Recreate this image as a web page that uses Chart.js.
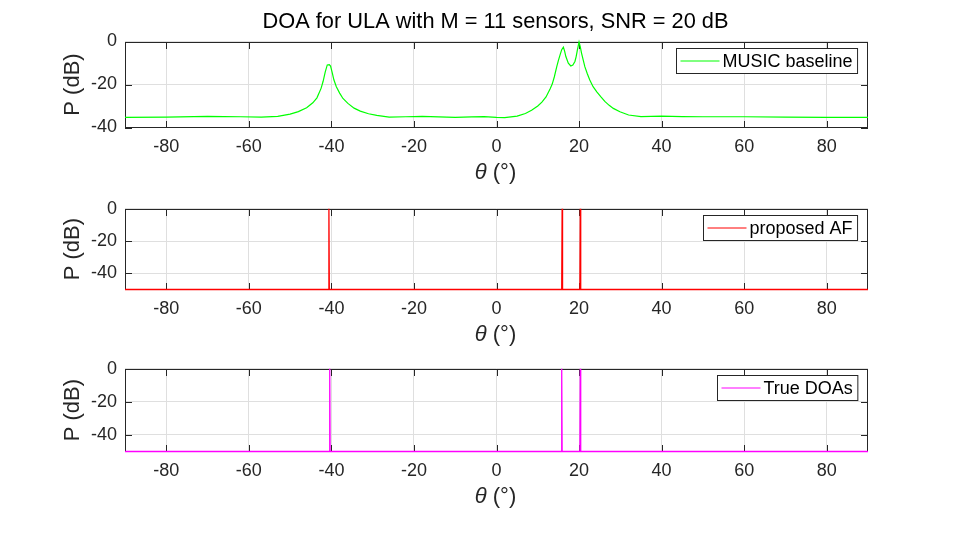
<!DOCTYPE html>
<html><head><meta charset="utf-8">
<script src="https://cdn.jsdelivr.net/npm/chart.js@4"></script>
<style>
html,body{margin:0;padding:0;background:#fff;}
#wrap{position:relative;width:960px;height:540px;overflow:hidden;background:#fff;}
canvas{position:absolute;left:0;}
</style></head><body>
<div id="wrap">
<canvas id="c1" width="960" height="190" style="top:0px"></canvas>
<canvas id="c2" width="960" height="160" style="top:190px"></canvas>
<canvas id="c3" width="960" height="190" style="top:350px"></canvas>
</div>
<script>
// ---- data ----
const thetaMusic = [-90,-80,-70,-62,-57,-53,-50,-48,-46,-44.5,-43.5,-42.5,-42,-41.5,-41,-40.5,-40.2,-39.8,-39.4,-38.8,-38,-37.2,-36,-34.5,-33,-31,-29,-26,-22,-18,-14,-10,-6,-3,0,2,5,7,8.5,10,11,12,13,13.5,14,14.6,15,15.4,15.8,16.2,16.5,16.8,17.4,18,18.5,19,19.3,19.6,20,20.3,20.6,21,21.4,22,22.6,23.4,24.3,25.3,26.3,27.3,28.3,29.9,32,35,40,45,50,60,70,80,90];
const pMusic = [-35.3,-35.2,-34.8,-35.0,-35.2,-34.8,-33.8,-32.6,-30.8,-28.5,-26.2,-21.8,-18.5,-14.2,-10.9,-10.8,-11.4,-14.5,-17.8,-21.0,-24.0,-26.5,-28.8,-31.0,-32.4,-33.6,-34.4,-35.2,-35.0,-34.8,-35.1,-35.3,-35.1,-34.9,-35.3,-35.4,-34.7,-33.5,-32.0,-30.0,-28.2,-25.8,-22.0,-19.8,-16.5,-11.7,-8.8,-6.2,-3.8,-2.6,-4.5,-7.0,-10.1,-11.4,-11.0,-9.3,-7.0,-3.9,-0.2,-2.5,-5.4,-8.5,-11.7,-15.0,-17.9,-21.0,-23.4,-25.8,-28.0,-29.7,-31.1,-32.7,-34.2,-34.9,-34.7,-34.9,-35.0,-35.0,-35.2,-35.3,-35.3];
const thetaAF = [-90,-40.7,-40.6,-40.5,15.8,15.9,16.0,20.2,20.3,20.4,90];
const pAF = [-50,-50,0,-50,-50,0,-50,-50,0,-50,-50];
const thetaTrue = [-90,-40.5,-40.4,-40.3,15.7,15.8,15.9,20.2,20.3,20.4,90];
const pTrue = [-50,-50,0,-50,-50,0,-50,-50,0,-50,-50];
const xTicks = [-80,-60,-40,-20,0,20,40,60,80];
const yTicksTop = [-40,-20,0];
const yTicksLow = [-40,-20,0];
const titleText = 'DOA for ULA with M = 11 sensors, SNR = 20 dB';
const legendTexts = ['MUSIC baseline','proposed AF','True DOAs'];
const yLabel = 'P (dB)';
const xLabelSym = 'θ';
const xLabelRest = ' (°)';

const FONT = '"Liberation Sans", Arial, Helvetica, sans-serif';
const AX = '#262626';

const decor = {
  id: 'decor',
  beforeDatasetsDraw(chart, args, o) {
    const {ctx, chartArea: a, scales} = chart;
    const L = Math.round(a.left), R = Math.round(a.right), T = Math.round(a.top), B = Math.round(a.bottom);
    ctx.save();
    ctx.strokeStyle = AX; ctx.lineWidth = 1;
    ctx.beginPath();
    scales.x.ticks.forEach(t => {
      const px = Math.round(scales.x.getPixelForValue(t.value)) + 0.5;
      ctx.moveTo(px, B); ctx.lineTo(px, B - 7);
      ctx.moveTo(px, T); ctx.lineTo(px, T + 7);
    });
    scales.y.ticks.forEach(t => {
      const py = Math.round(scales.y.getPixelForValue(t.value)) + 0.5;
      ctx.moveTo(L, py); ctx.lineTo(L + 7, py);
      ctx.moveTo(R, py); ctx.lineTo(R - 7, py);
    });
    ctx.stroke();
    ctx.strokeRect(L + 0.5, T + 0.5, R - L - 1, B - T - 1);
    ctx.restore();
  },
  afterDraw(chart, args, o) {
    const {ctx, chartArea: a} = chart;
    ctx.save();
    // legend
    ctx.font = '18px ' + FONT;
    const tw = ctx.measureText(o.legend).width;
    const bw = 4 + 39 + 3 + tw + 5, bh = 25;
    const bx = Math.round(a.right - 11 - bw) + 0.5, by = Math.round(a.top + 6) + 0.5;
    ctx.fillStyle = '#fff';
    ctx.fillRect(bx, by, bw, bh);
    ctx.strokeStyle = AX; ctx.lineWidth = 1;
    ctx.strokeRect(bx, by, bw, bh);
    ctx.strokeStyle = o.color; ctx.lineWidth = 1;
    ctx.beginPath();
    ctx.moveTo(bx + 4, by + bh / 2); ctx.lineTo(bx + 43, by + bh / 2);
    ctx.stroke();
    ctx.fillStyle = '#000';
    ctx.textBaseline = 'middle'; ctx.textAlign = 'left';
    ctx.fillText(o.legend, bx + 46, by + bh / 2 + 1);
    // y label
    ctx.fillStyle = AX;
    ctx.font = '22px ' + FONT;
    ctx.save();
    ctx.translate(73, (a.top + a.bottom) / 2);
    ctx.rotate(-Math.PI / 2);
    ctx.textAlign = 'center'; ctx.textBaseline = 'middle';
    ctx.fillText(yLabel, 0, 0);
    ctx.restore();
    // x label
    const cx = (a.left + a.right) / 2 - 1;
    ctx.textBaseline = 'alphabetic'; ctx.textAlign = 'left';
    ctx.font = 'italic 22px ' + FONT;
    const w1 = ctx.measureText(xLabelSym).width;
    ctx.font = '22px ' + FONT;
    const w2 = ctx.measureText(xLabelRest).width;
    let sx = cx - (w1 + w2) / 2;
    ctx.font = 'italic 22px ' + FONT;
    ctx.fillText(xLabelSym, sx, a.bottom + 51);
    ctx.font = '22px ' + FONT;
    ctx.fillText(xLabelRest, sx + w1, a.bottom + 51);
    // title
    if (o.title) {
      ctx.font = '21.8px ' + FONT;
      ctx.textAlign = 'center';
      ctx.fillStyle = '#000';
      ctx.fillText(o.title, cx, 28);
    }
    ctx.restore();
  }
};

function makeChart(id, xs, ys, color, lw, yMin, yTicks, padTop, xAxisH, legend, title) {
  const pts = xs.map((x, i) => ({x: x, y: ys[i]}));
  return new Chart(document.getElementById(id), {
    type: 'line',
    data: {datasets: [{data: pts, borderColor: color, borderWidth: lw, pointRadius: 0, tension: 0, fill: false, clip: 4}]},
    options: {
      responsive: false, animation: false,
      layout: {padding: {left: 0, right: 92, top: padTop, bottom: 0}},
      plugins: {legend: {display: false}, tooltip: {enabled: false}, title: {display: false},
        decor: {legend: legend, color: color, title: title}},
      scales: {
        x: {type: 'linear', min: -90, max: 90,
          afterBuildTicks: s => { s.ticks = xTicks.map(v => ({value: v})); },
          afterFit: s => { s.height = xAxisH; },
          grid: {color: '#dfdfdf', drawTicks: false},
          border: {display: false},
          ticks: {color: AX, font: {family: FONT, size: 18}, padding: 9, maxRotation: 0, autoSkip: false, callback: v => String(v)}
        },
        y: {type: 'linear', min: yMin, max: 0,
          afterBuildTicks: s => { s.ticks = yTicks.map(v => ({value: v})); },
          afterFit: s => { s.width = 125; },
          grid: {color: '#dfdfdf', drawTicks: false},
          border: {display: false},
          ticks: {color: AX, font: {family: FONT, size: 18}, padding: 8, callback: v => String(v)}
        }
      }
    },
    plugins: [decor]
  });
}

makeChart('c1', thetaMusic, pMusic, '#00ff00', 1.2, -40, yTicksTop, 41.5, 62.5, legendTexts[0], titleText);
makeChart('c2', thetaAF, pAF, '#ff0000', 1.3, -50, yTicksLow, 13, 60.5, legendTexts[1], null);
makeChart('c3', thetaTrue, pTrue, '#ff00ff', 1.3, -50, yTicksLow, 14.5, 88.5, legendTexts[2], null);
</script>
</body></html>
